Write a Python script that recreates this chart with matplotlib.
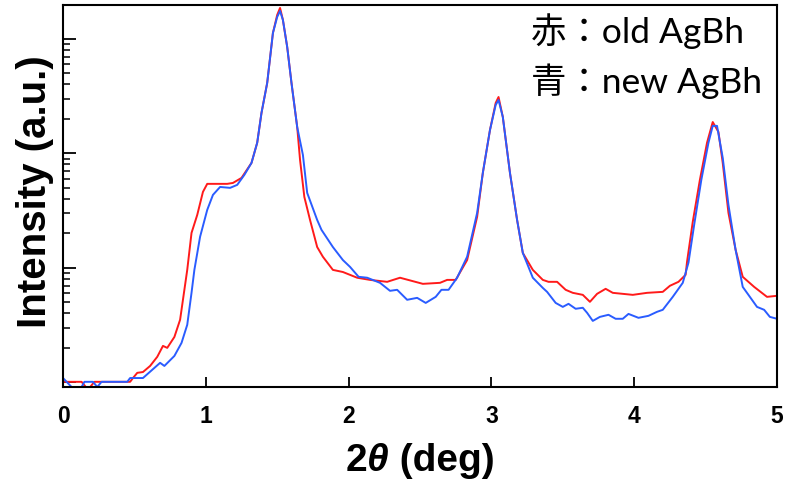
import matplotlib
matplotlib.use("Agg")
import matplotlib.pyplot as plt
import numpy as np

# ---- data (2theta in deg, intensity in a.u.) ----
old_x = [0.00, 0.13, 0.16, 0.19, 0.22, 0.47, 0.49, 0.52, 0.56, 0.61, 0.66, 0.70, 0.73,
         0.78, 0.82, 0.85, 0.87, 0.90, 0.94, 0.98, 1.01, 1.15, 1.19, 1.25, 1.32, 1.36,
         1.39, 1.43, 1.47, 1.50, 1.52, 1.54, 1.57, 1.60, 1.64, 1.66, 1.69, 1.73, 1.78,
         1.82, 1.89, 1.96, 2.06, 2.15, 2.27, 2.36, 2.52, 2.64, 2.69, 2.75, 2.83, 2.90,
         2.94, 2.99, 3.03, 3.05, 3.08, 3.13, 3.18, 3.22, 3.29, 3.36, 3.40, 3.46, 3.52,
         3.57, 3.64, 3.69, 3.74, 3.80, 3.85, 3.99, 4.09, 4.20, 4.25, 4.31, 4.36, 4.37,
         4.41, 4.46, 4.51, 4.55, 4.59, 4.62, 4.66, 4.71, 4.76, 4.84, 4.93, 5.00]
old_y = [1.01, 1.01, 0.91, 0.91, 1.01, 1.01, 1.09, 1.21, 1.23, 1.39, 1.67, 2.08, 2.0,
         2.49, 3.52, 6.43, 9.6, 20.2, 29.0, 46.1, 54.2, 54.2, 55.2, 61.1, 82.6, 124,
         226, 413, 1127, 1622, 1866, 1466, 851, 413, 170, 87.7, 41.7, 26.2, 15.2,
         12.5, 9.6, 9.2, 8.2, 7.85, 7.55, 8.2, 7.25, 7.4, 7.85, 7.85, 11.7, 27.9,
         67.6, 160, 276, 311, 208, 67.6, 26.2, 13.5, 9.6, 7.85, 7.55, 7.55, 6.43,
         6.05, 5.81, 5.05, 5.93, 6.56, 6.05, 5.81, 6.05, 6.17, 6.97, 7.55, 8.69, 11.3,
         25.2, 58.7, 124, 188, 154, 82.6, 30.2, 14.4, 8.35, 6.82, 5.58, 5.7]

new_x = [0.00, 0.06, 0.13, 0.15, 0.21, 0.24, 0.27, 0.45, 0.47, 0.56, 0.68, 0.71, 0.78,
         0.83, 0.87, 0.90, 0.92, 0.96, 1.01, 1.05, 1.10, 1.17, 1.22, 1.27, 1.32, 1.36,
         1.39, 1.43, 1.47, 1.50, 1.52, 1.54, 1.57, 1.60, 1.64, 1.68, 1.71, 1.78, 1.81,
         1.89, 1.96, 2.01, 2.07, 2.13, 2.22, 2.29, 2.34, 2.41, 2.48, 2.54, 2.61, 2.65,
         2.70, 2.76, 2.83, 2.90, 2.94, 2.99, 3.03, 3.05, 3.08, 3.13, 3.18, 3.22, 3.29,
         3.36, 3.39, 3.45, 3.50, 3.54, 3.59, 3.64, 3.67, 3.71, 3.76, 3.82, 3.87, 3.92,
         3.96, 4.03, 4.10, 4.16, 4.20, 4.27, 4.34, 4.38, 4.42, 4.47, 4.52, 4.55, 4.58,
         4.62, 4.66, 4.71, 4.76, 4.80, 4.86, 4.91, 4.95, 5.00]
new_y = [1.09, 0.91, 0.91, 1.01, 1.01, 0.91, 1.01, 1.01, 1.09, 1.09, 1.48, 1.39, 1.70,
         2.21, 3.18, 6.05, 9.6, 18.7, 32.1, 43.4, 50.9, 50.0, 53.1, 64.9, 82.6, 124,
         226, 413, 1127, 1557, 1758, 1466, 851, 413, 170, 97, 45.2, 26.2, 21.5,
         15.2, 11.7, 10.2, 8.35, 8.2, 7.4, 6.3, 6.43, 5.26, 5.47, 4.94, 5.58, 6.43,
         6.43, 8.2, 12.5, 30.2, 67.6, 160, 265, 293, 208, 67.6, 26.2, 13.5, 8.2,
         6.68, 6.17, 4.94, 4.56, 4.85, 4.39, 4.48, 4.05, 3.44, 3.73, 3.89, 3.59, 3.59,
         3.96, 3.66, 3.81, 4.13, 4.30, 5.58, 7.4, 11.1, 23.8, 58.7, 124, 174, 174,
         91.4, 35.5, 14.4, 6.82, 5.81, 4.56, 4.30, 3.73, 3.59]

x_ticks = [0, 1, 2, 3, 4, 5]
label_lines = ["赤：old AgBh", "青：new AgBh"]
xlabel_parts = [("2", 'normal'), ("θ", 'italic'), (" (deg)", 'normal')]

W, H = 798, 490
fig = plt.figure(figsize=(W / 100, H / 100), dpi=100)
ax = fig.add_axes([63 / W, 1 - 387 / H, 714 / W, 382 / H])

ax.plot(old_x, old_y, color='#ff1a1a', lw=1.4)
ax.plot(new_x, new_y, color='#2a5cff', lw=1.4)

ax.set_yscale('log')
ax.set_xlim(0, 5)
ax.set_ylim(0.91, 1980)
ax.set_xticks(x_ticks)
ax.set_xticklabels([str(t) for t in x_ticks], fontfamily='Liberation Sans',
                   fontweight='bold', fontsize=16.5)
ax.yaxis.set_major_locator(matplotlib.ticker.LogLocator(base=10, numticks=10))
ax.yaxis.set_minor_locator(matplotlib.ticker.LogLocator(base=10, subs=np.arange(2, 10), numticks=20))
ax.yaxis.set_major_formatter(matplotlib.ticker.NullFormatter())
ax.yaxis.set_minor_formatter(matplotlib.ticker.NullFormatter())
ax.tick_params(axis='y', which='major', direction='in', length=9.5, width=1.3)
ax.tick_params(axis='y', which='minor', direction='in', length=5, width=1.1)
ax.tick_params(axis='x', which='major', direction='in', length=7, width=1.3, pad=13)
ax.tick_params(axis='x', which='minor', bottom=False)
for s in ax.spines.values():
    s.set_linewidth(1.5)
    s.set_color('black')

fig.text(35 / W, 1 - 192 / H, "Intensity (a.u.)", rotation=90, ha='center', va='center',
         fontfamily='Liberation Sans', fontweight='bold', fontsize=29)

# x label built from pieces so that only theta is italic
renderer = fig.canvas.get_renderer()
pieces = []
xpos = 0.0
for txt, style in xlabel_parts:
    t = fig.text(xpos / W, 1 - 471 / H, txt, ha='left', va='baseline',
                 fontfamily='Liberation Sans', fontweight='bold', fontstyle=style,
                 fontsize=28)
    ext = t.get_window_extent(renderer)
    pieces.append(t)
    xpos += ext.width
total = xpos
start = 420 - total / 2
cur = start
for t in pieces:
    w = t.get_window_extent(renderer).width
    t.set_x(cur / W)
    cur += w

fig.text(531 / W, 1 - 43 / H, label_lines[0], ha='left', va='baseline',
         fontfamily=['Lato', 'Noto Sans CJK JP'], fontsize=25.5)
fig.text(531 / W, 1 - 93 / H, label_lines[1], ha='left', va='baseline',
         fontfamily=['Lato', 'Noto Sans CJK JP'], fontsize=25.5)

fig.savefig("out.png", dpi=100)
